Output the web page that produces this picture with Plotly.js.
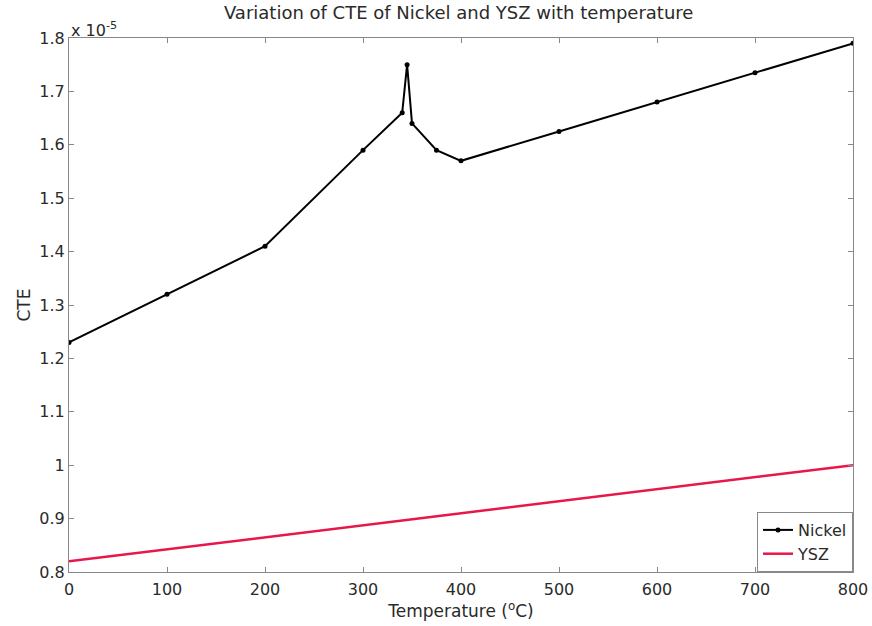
<!DOCTYPE html>
<html><head><meta charset="utf-8">
<script src="https://cdn.plot.ly/plotly-3.0.1.min.js"></script>
<style>html,body{margin:0;padding:0;background:#fff}</style>
</head><body>
<div id="chart" style="width:872px;height:626px"></div>
<script>
const nickelTemp = [0, 100, 200, 300, 340, 345, 350, 375, 400, 500, 600, 700, 800];
const nickelCTE = [1.23, 1.32, 1.41, 1.59, 1.66, 1.75, 1.64, 1.59, 1.57, 1.625, 1.68, 1.735, 1.79];
const yszTemp = [0, 800];
const yszCTE = [0.82, 1.0];
const xTicks = [0, 100, 200, 300, 400, 500, 600, 700, 800];
const yTicks = [0.8, 0.9, 1, 1.1, 1.2, 1.3, 1.4, 1.5, 1.6, 1.7, 1.8];

const fam = 'DejaVu Sans, Liberation Sans, Arial, sans-serif';
const font = {family: fam, size: 15, color: '#2a2a2a'};
Plotly.newPlot('chart', [
  {x: nickelTemp, y: nickelCTE, name: 'Nickel', mode: 'lines+markers',
   line: {color: '#000', width: 2}, marker: {color: '#000', size: 5}},
  {x: yszTemp, y: yszCTE, name: 'YSZ', mode: 'lines',
   line: {color: '#e8174a', width: 2.5}}
], {
  width: 872, height: 626,
  margin: {l: 69, r: 19, t: 38, b: 54},
  paper_bgcolor: '#fff', plot_bgcolor: '#fff',
  font: font,
  title: {text: 'Variation of CTE of Nickel and YSZ with temperature', x: 0.526, xanchor: 'center', y: 0.98, yanchor: 'middle', font: {family: fam, size: 18, color: '#2a2a2a'}},
  xaxis: {range: [0, 800], tickvals: xTicks, ticks: 'inside', ticklen: 5, tickcolor: '#888',
    showline: true, linecolor: '#888', linewidth: 1, mirror: 'ticks', showgrid: false, zeroline: false,
    tickfont: {size: 16}, automargin: false, ticklabelstandoff: 3,
    title: {text: 'Temperature (<sup>o</sup>C)', standoff: 0, font: {size: 17}}},
  yaxis: {range: [0.8, 1.8], tickvals: yTicks, ticktext: yTicks.map(String), ticks: 'inside', ticklen: 5, tickcolor: '#888',
    showline: true, linecolor: '#888', linewidth: 1, mirror: 'ticks', showgrid: false, zeroline: false,
    tickfont: {size: 16}, automargin: false,
    title: {text: 'CTE', standoff: 4, font: {size: 17}}},
  legend: {x: 1, xanchor: 'right', y: 0, yanchor: 'bottom', bordercolor: '#888', borderwidth: 1,
    bgcolor: '#fff', font: {size: 16}, tracegroupgap: 0, itemwidth: 30},
  showlegend: true,
  annotations: [{text: 'x 10<sup>-5</sup>', xref: 'paper', yref: 'paper', x: 0, y: 1, xanchor: 'left', yanchor: 'bottom', showarrow: false, font: {size: 16}, yshift: -4}]
}, {displayModeBar: false, staticPlot: true});
</script>
</body></html>
